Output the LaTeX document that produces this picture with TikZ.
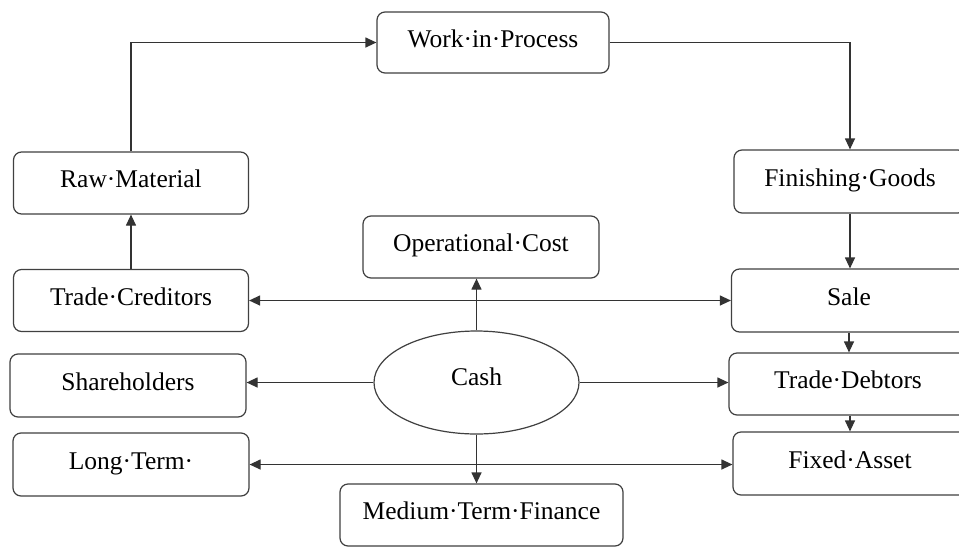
\documentclass[tikz,border=0pt]{standalone}
\usepackage{fontspec}
\setmainfont{Liberation Serif}
\usetikzlibrary{shapes.geometric,arrows.meta}
\begin{document}
\begin{tikzpicture}[x=1pt,y=-1pt,
  box/.style={draw=black!75, line width=1.2pt, rounded corners=8pt, inner sep=0pt,
    minimum height=62pt, text height=19pt, text depth=10pt,
    font=\fontsize{25.5}{30}\selectfont},
  oval/.style={draw=black!75, line width=1.2pt, ellipse, inner sep=0pt,
    minimum width=205pt, minimum height=103pt, text height=19pt, text depth=14pt,
    font=\fontsize{25.5}{30}\selectfont},
  conn/.style={draw=black!80, line width=1.2pt},
  arr/.style={conn, -{Triangle[length=11pt,width=10pt]}},
  arrb/.style={conn, {Triangle[length=11pt,width=10pt]}-{Triangle[length=11pt,width=10pt]}}]
\useasboundingbox[fill=white] (0,0) rectangle (959,547);
\clip (0,0) rectangle (959,547);

\node[box, minimum width=232pt, minimum height=61pt] (wip) at (493,42.5) {Work·in·Process};
\node[box, minimum width=235pt] (rm) at (131,183) {Raw·Material};
\node[box, minimum width=232pt, minimum height=63pt] (fg) at (850,181.5) {Finishing·Goods};
\node[box, minimum width=236pt] (oc) at (481,247) {Operational·Cost};
\node[box, minimum width=235pt] (tc) at (131,300.5) {Trade·Creditors};
\node[box, minimum width=235pt, minimum height=63pt] (sale) at (849,300.5) {Sale};
\node[box, minimum width=236pt, minimum height=63pt] (sh) at (128,385.5) {Shareholders};
\node[oval] (cash) at (476.5,382.5) {Cash};
\node[box, minimum width=238pt] (td) at (848,384) {Trade·Debtors};
\node[box, minimum width=236pt, minimum height=63pt] (lt) at (131,464.5) {Long·Term·};
\node[box, minimum width=234pt, minimum height=63pt] (fa) at (850,463.5) {Fixed·Asset};
\node[box, minimum width=283pt] (mtf) at (481.5,515) {Medium·Term·Finance};

% production cycle
\draw[arr] (rm.north) |- (wip.west);
\draw[arr] (wip.east) -| (fg.north);
\draw[arr] (fg.south) -- (sale.north -| fg.south);
\draw[arr] (sale.south) -- (td.north -| sale.south);
\draw[arr] (td.south -| fa.north) -- (fa.north);
\draw[arr] (tc.north) -- (rm.south);

% cash flows
\draw[arrb] (tc.east) -- (sale.west);
\draw[arr] (cash.north) -- (oc.south -| cash.north);
\draw[arr] (cash.west) -- (sh.east |- cash.west);
\draw[arr] (cash.east) -- (td.west |- cash.east);
\draw[arr] (cash.south) -- (mtf.north -| cash.south);
\draw[arrb] (lt.east) -- (fa.west |- lt.east);
\end{tikzpicture}
\end{document}
